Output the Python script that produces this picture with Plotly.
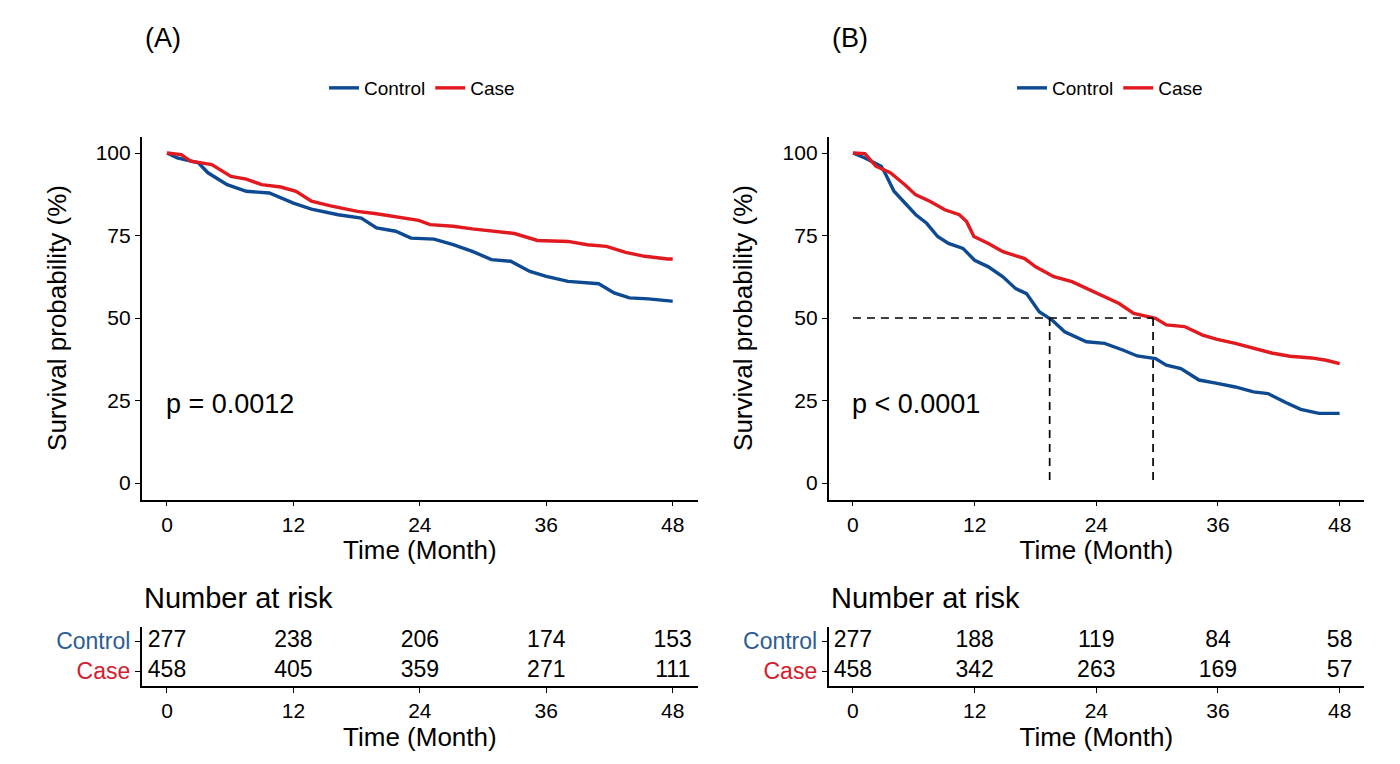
import plotly.graph_objects as go

# ---- data ----
months = [0, 12, 24, 36, 48]

# panel A
a_ctrl_t = [0, 0.98, 2.98, 3.89, 5.71, 7.53, 9.71, 12.0, 13.71, 16.25, 18.44, 19.89, 21.71,
            23.16, 25.35, 27.16, 28.98, 30.8, 32.62, 34.44, 36.0, 38.07, 40.98, 42.44,
            43.89, 45.71, 47.89, 48]
a_ctrl_s = [100, 98.5, 97, 94, 90.4, 88.4, 87.9, 84.8, 83, 81.3, 80.3, 77.3, 76.3,
            74.2, 73.9, 72.2, 70.2, 67.7, 67.2, 64.1, 62.6, 61.1, 60.4, 57.6,
            56.1, 55.8, 55.1, 55.1]
a_case_t = [0, 1.35, 2.25, 4.25, 6.07, 7.53, 8.98, 10.8, 12.25, 13.71, 15.53, 18.07, 19.89,
            21.71, 23.89, 24.98, 27.16, 28.98, 30.8, 32.98, 35.16, 38.07, 39.89, 41.71,
            43.53, 45.35, 47.53, 48]
a_case_s = [100, 99.5, 97.5, 96.5, 92.9, 92.1, 90.4, 89.7, 88.4, 85.4, 84, 82.3, 81.6,
            80.6, 79.6, 78.3, 77.8, 77, 76.3, 75.6, 73.5, 73.2, 72.2, 71.7,
            69.9, 68.7, 67.9, 67.9]
a_risk_ctrl = [277, 238, 206, 174, 153]
a_risk_case = [458, 405, 359, 271, 111]
a_pval = "p = 0.0012"

# panel B
b_ctrl_t = [0, 1.18, 2.79, 3.15, 4.05, 5.12, 6.2, 7.27, 8.35, 9.42, 10.85, 12.0, 13.36,
            14.79, 16.05, 17.12, 18.37, 19.63, 20.88, 23.03, 24.82, 26.61, 28.04, 29.84,
            30.91, 32.34, 34.13, 35.92, 37.71, 39.5, 40.94, 42.73, 44.16, 45.95, 48]
b_ctrl_s = [100, 98.5, 96, 94, 88.4, 84.8, 81.3, 78.7, 74.7, 72.6, 71.1, 67.5, 65.5,
            62.5, 58.9, 57.4, 51.9, 49.4, 45.8, 42.8, 42.3, 40.3, 38.5, 37.7,
            35.7, 34.7, 31.2, 30.2, 29.1, 27.6, 27.1, 24.3, 22.3, 21.1, 21.1]
b_case_t = [0, 1.18, 2.26, 3.69, 5.12, 6.2, 7.63, 9.06, 10.49, 11.21, 11.93, 13.36, 14.79,
            16.94, 18.02, 19.81, 21.6, 23.39, 25.18, 26.25, 27.69, 29.84, 30.91, 32.7,
            34.49, 35.92, 37.71, 39.5, 41.29, 43.09, 45.23, 46.67, 48]
b_case_s = [100, 99.8, 96, 94, 90.4, 87.3, 85.3, 82.8, 81.3, 79.2, 74.7, 72.6, 70.1,
            68, 65.5, 62.5, 61, 58.4, 55.9, 54.4, 51.4, 49.9, 47.9, 47.4,
            44.8, 43.5, 42.3, 40.8, 39.4, 38.4, 37.9, 37.2, 36.2]
b_risk_ctrl = [277, 188, 119, 84, 58]
b_risk_case = [458, 342, 263, 169, 57]
b_pval = "p < 0.0001"
b_medians = [19.4, 29.6]

groups = ["Control", "Case"]
line_cols = {"Control": "#0e4a92", "Case": "#e2191e"}
lab_cols = {"Control": "#2c5d95", "Case": "#d3202e"}

W, H = 1400, 764
OFF = 8  # page body margin
FONT = "Liberation Sans, Arial, sans-serif"


def fx(p):
    return (p - OFF) / W


def fy(p):
    return 1 - (p - OFF) / H


def fnt(size):
    return dict(size=size, color="black", family=FONT)


fig = go.Figure()

panels = [
    dict(tag="(A)", km_x="x", km_y="y", tb_x="x2", tb_y="y2", leg="legend",
         ctrl=(a_ctrl_t, a_ctrl_s), case=(a_case_t, a_case_s),
         risk=(a_risk_ctrl, a_risk_case), p=a_pval, med=None,
         dom=(141.7, 698), left=145),
    dict(tag="(B)", km_x="x3", km_y="y3", tb_x="x4", tb_y="y4", leg="legend2",
         ctrl=(b_ctrl_t, b_ctrl_s), case=(b_case_t, b_case_s),
         risk=(b_risk_ctrl, b_risk_case), p=b_pval, med=b_medians,
         dom=(828.6, 1364), left=832),
]

axis_common = dict(showline=True, linecolor="black", linewidth=1.6, ticks="outside",
                   ticklen=5, tickwidth=1.4, tickcolor="black", showgrid=False,
                   zeroline=False, tickfont=fnt(21))

for i, pn in enumerate(panels):
    # survival curves
    for g, (t, s) in zip(groups, [pn["ctrl"], pn["case"]]):
        fig.add_trace(go.Scatter(x=t, y=s, mode="lines", name=g, legend=pn["leg"],
                                 line=dict(color=line_cols[g], width=3.4),
                                 xaxis=pn["km_x"], yaxis=pn["km_y"]))
    # median lines
    if pn["med"]:
        m1, m2 = pn["med"]
        fig.add_trace(go.Scatter(x=[0, m2], y=[50, 50], mode="lines", showlegend=False,
                                 line=dict(color="black", width=1.7, dash="8px,6px"),
                                 xaxis=pn["km_x"], yaxis=pn["km_y"]))
        for m in pn["med"]:
            fig.add_trace(go.Scatter(x=[m, m], y=[50, 0], mode="lines", showlegend=False,
                                     line=dict(color="black", width=1.7, dash="8px,6px"),
                                     xaxis=pn["km_x"], yaxis=pn["km_y"]))
    # risk table numbers
    for row, (g, vals) in enumerate(zip(groups, pn["risk"])):
        fig.add_trace(go.Scatter(x=months, y=[1 - row] * len(months), mode="text",
                                 text=[str(v) for v in vals], showlegend=False,
                                 textfont=fnt(23),
                                 xaxis=pn["tb_x"], yaxis=pn["tb_y"]))

    d0, d1 = fx(pn["dom"][0]), fx(pn["dom"][1])
    kx = "xaxis" if i == 0 else "xaxis3"
    ky = "yaxis" if i == 0 else "yaxis3"
    tx = "xaxis2" if i == 0 else "xaxis4"
    ty = "yaxis2" if i == 0 else "yaxis4"
    fig.update_layout({
        kx: dict(axis_common, domain=[d0, d1], range=[-2.4, 50.4], tickvals=months,
                 anchor=pn["km_y"],
                 title=dict(text="Time (Month)", standoff=4, font=fnt(26))),
        ky: dict(axis_common, domain=[fy(499.5), fy(136.5)], range=[-5, 105],
                 tickvals=[0, 25, 50, 75, 100], anchor=pn["km_x"],
                 title=dict(text="Survival probability (%)", standoff=22, font=fnt(26))),
        tx: dict(axis_common, domain=[d0, d1], range=[-2.4, 50.4], tickvals=months,
                 anchor=pn["tb_y"],
                 title=dict(text="Time (Month)", standoff=4, font=fnt(26))),
        ty: dict(axis_common, domain=[fy(686), fy(627)], range=[-0.5, 1.47],
                 tickvals=[1, 0], anchor=pn["tb_x"],
                 ticktext=["<span style='color:%s'>%s</span>" % (lab_cols[g], g) for g in groups],
                 tickfont=dict(size=23, family=FONT)),
    })

    fig.add_annotation(text=pn["tag"], x=fx(pn["left"] - 2), y=fy(38), xref="paper", yref="paper",
                       xanchor="left", yanchor="middle", showarrow=False, font=fnt(27))
    fig.add_annotation(text="Number at risk", x=fx(pn["left"] - 3), y=fy(598), xref="paper",
                       yref="paper", xanchor="left", yanchor="middle", showarrow=False,
                       font=fnt(29))
    fig.add_annotation(text=pn["p"], x=-0.3, y=24, xref=pn["km_x"], yref=pn["km_y"],
                       xanchor="left", yanchor="middle", showarrow=False, font=fnt(27))

leg_common = dict(orientation="h", xanchor="center", yanchor="middle", bgcolor="rgba(0,0,0,0)",
                  font=fnt(19), itemwidth=30, tracegroupgap=0)
fig.update_layout(
    width=W, height=H, margin=dict(l=0, r=0, t=0, b=0),
    paper_bgcolor="white", plot_bgcolor="white",
    font=dict(family=FONT, color="black"),
    legend=dict(leg_common, x=fx(422), y=fy(88)),
    legend2=dict(leg_common, x=fx(1110), y=fy(88)),
)

fig.write_html("out.html")
